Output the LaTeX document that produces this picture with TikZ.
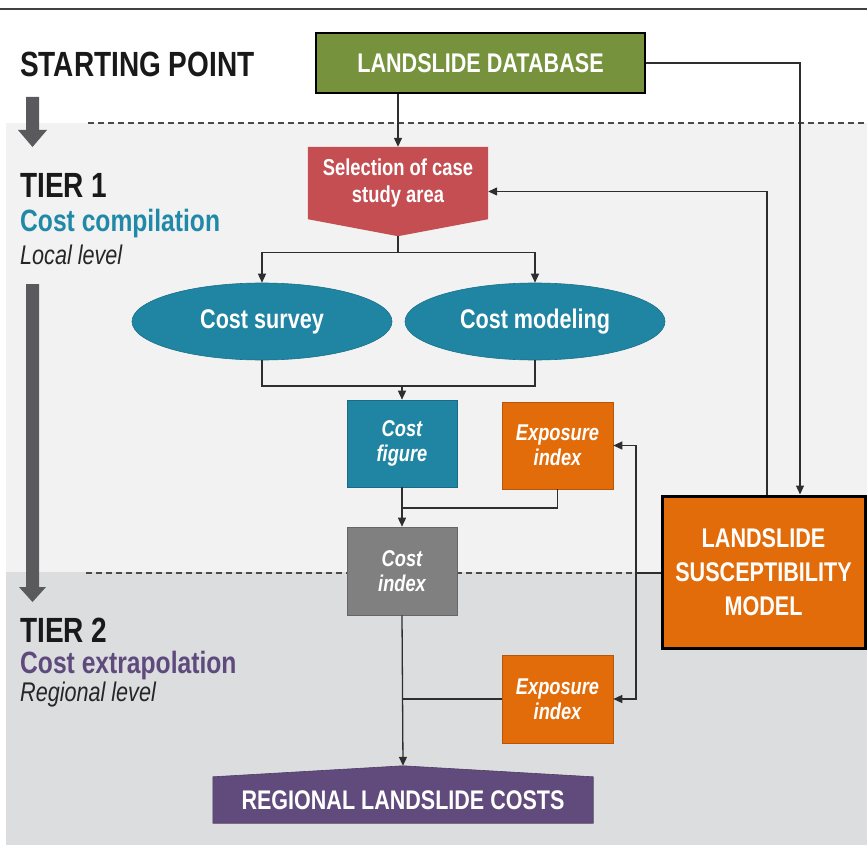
\documentclass[tikz,border=0pt]{standalone}
\usepackage{fontspec}
\setmainfont{Liberation Sans}[FakeStretch=0.8]
\usetikzlibrary{shapes.geometric,arrows.meta,calc}

\pgfdeclarelayer{back}
\pgfdeclarelayer{shapes}
\pgfsetlayers{back,shapes,main}

\definecolor{dbgreen}{HTML}{76923C}
\definecolor{selred}{HTML}{C44E52}
\definecolor{tealc}{HTML}{1F85A2}
\definecolor{orng}{HTML}{E36C0A}
\definecolor{idxgray}{HTML}{808080}
\definecolor{purp}{HTML}{614B7D}
\definecolor{panelA}{HTML}{F2F2F2}
\definecolor{panelB}{HTML}{DCDDDF}
\definecolor{tierarrow}{HTML}{5A5A5C}
\definecolor{linec}{HTML}{2E2E2E}
\definecolor{compc}{HTML}{2089A8}
\definecolor{extrc}{HTML}{5F4A7D}
\definecolor{dashc}{HTML}{4A4A4A}

\tikzset{
  conn/.style={draw=linec, line width=1.3pt},
  arr/.style={conn, -{Triangle[length=9pt,width=8pt]}},
  boxtext/.style={rectangle, inner sep=0pt, align=center, text=white},
  smallbox/.style={boxtext, minimum width=110pt, minimum height=87pt,
    font=\fontsize{22.8}{25}\selectfont\bfseries\itshape},
  costellipse/.style={ellipse, inner sep=0pt, fill=tealc, draw=tealc!85!black, line width=0.6pt,
    minimum width=260pt, minimum height=77pt, text=white,
    font=\fontsize{27}{30}\selectfont\bfseries},
  sidehead/.style={anchor=base west, inner sep=0pt, text=black!90,
    font=\fontsize{35}{38}\selectfont\bfseries},
  sidesub/.style={anchor=base west, inner sep=0pt,
    font=\fontsize{30.8}{33}\selectfont\bfseries},
  sidelevel/.style={anchor=base west, inner sep=0pt, text=black!85,
    font=\fontsize{27}{30}\selectfont\itshape},
  tierline/.style={draw=dashc, line width=1.2pt, dash pattern=on 6pt off 4pt}
}

\begin{document}
\begin{tikzpicture}[x=1pt, y=-1pt]
\useasboundingbox (0,0) rectangle (867,848);

% tier panels, dividers and top rule
\begin{pgfonlayer}{back}
  \fill[white] (0,0) rectangle (867,848);
  \fill[panelA] (6,123) rectangle (867,572);
  \fill[panelB] (6,572) rectangle (867,845);
  \draw[tierline] (88,123) -- (867,123);
  \draw[tierline] (86,573) -- (662,573);
  \draw[line width=2.5pt, draw=black!75] (0,9) -- (867,9);
\end{pgfonlayer}

% left-hand tier headings
\node[sidehead] (start) at (20,77) {STARTING POINT};
\node[sidehead] (tier1) at (20,197) {TIER 1};
\node[sidesub, text=compc] (comp) at (20,231) {Cost compilation};
\node[sidelevel] (local) at (20,264) {Local level};
\node[sidehead] (tier2) at (20,642) {TIER 2};
\node[sidesub, text=extrc] (extr) at (20,673) {Cost extrapolation};
\node[sidelevel] (regional) at (20,701) {Regional level};

% tier progression arrows
\fill[tierarrow] (26,97) -- (39,97) -- (39,130) -- (47,130) -- (32.5,147)
  -- (18,130) -- (26,130) -- cycle;
\fill[tierarrow] (26,284) -- (39,284) -- (39,587) -- (46,587) -- (32.5,602)
  -- (19,587) -- (26,587) -- cycle;

% boxes
\node[boxtext, fill=dbgreen, draw=black, line width=2pt, minimum width=329pt, minimum height=60pt,
  font=\fontsize{27}{30}\selectfont\bfseries] (db) at (480.5,63) {LANDSLIDE DATABASE};

\node[boxtext, minimum width=180pt, minimum height=72pt,
  font=\fontsize{23}{27}\selectfont\bfseries] (sel) at (398,183) {Selection of case\\study area};
\coordinate (seltip) at ([yshift=-17pt]sel.south);

\node[costellipse] (survey) at (262,321.5) {Cost survey};
\node[costellipse] (model) at (535,321.5) {Cost modeling};

\node[smallbox, fill=tealc, draw=tealc!80!black, line width=0.6pt] (fig) at (402,443.5) {Cost\\figure};
\node[smallbox, fill=orng, draw=orng!80!black, line width=0.6pt, minimum width=111pt] (exp1) at (557.5,445.5) {Exposure\\index};
\node[smallbox, fill=idxgray, draw=idxgray!80!black, line width=0.6pt, minimum height=88pt] (cidx) at (402,571) {Cost\\index};
\node[smallbox, fill=orng, draw=orng!80!black, line width=0.6pt, minimum width=111pt, minimum height=88pt] (exp2) at (557.5,699) {Exposure\\index};

\node[boxtext, fill=orng, draw=black, line width=3pt, minimum width=203pt, minimum height=152pt,
  font=\fontsize{27}{34}\selectfont\bfseries] (lsm) at (763.5,572) {LANDSLIDE\\SUSCEPTIBILITY\\MODEL};

\node[boxtext, minimum width=380pt, minimum height=46pt,
  font=\fontsize{26.9}{30}\selectfont\bfseries] (reg) at (403,800) {REGIONAL LANDSLIDE COSTS};
\coordinate (regpeak) at ([yshift=11pt]reg.north);

% pointed shapes behind their labels
\begin{pgfonlayer}{shapes}
  \fill[selred] (sel.north west) -- (sel.north east) -- (sel.south east) -- (seltip)
    -- (sel.south west) -- cycle;
  \fill[purp] (reg.south west) -- (reg.north west) -- (regpeak) -- (reg.north east)
    -- (reg.south east) -- cycle;
  \draw[purp!80!black, line width=0.6pt] (reg.south west) -- (reg.north west) -- (regpeak)
    -- (reg.north east) -- (reg.south east) -- cycle;
\end{pgfonlayer}

% connectors
\draw[arr] (sel.north |- db.south) -- (sel.north);
\draw[arr] (db.east) -| ([xshift=36.5pt]lsm.north);
\draw[arr] ([xshift=3.5pt]lsm.north) |- ([yshift=-8.5pt]sel.east);

\coordinate (split) at ([yshift=-16pt]seltip);
\draw[conn] (seltip) -- (split);
\draw[arr] (split) -| (survey.north);
\draw[arr] (split) -| (model.north);

\coordinate (merge) at (fig.north |- 0,386);
\draw[conn] (survey.south) |- (merge) -| (model.south);
\draw[arr] (merge) -- (fig.north);

\draw[arr] (fig.south) -- (cidx.north);
\draw[conn] (exp1.south) |- (fig.south |- 0,508);

\coordinate (bus) at (636,573);
\draw[conn] (lsm.west |- bus) -- (bus);
\draw[arr] (bus) |- (exp1.east);
\draw[arr] (bus) |- (exp2.east);

\draw[arr] (cidx.south) -- (regpeak);
\draw[conn] (exp2.west) -- (cidx.south |- exp2.west);
\end{tikzpicture}
\end{document}
